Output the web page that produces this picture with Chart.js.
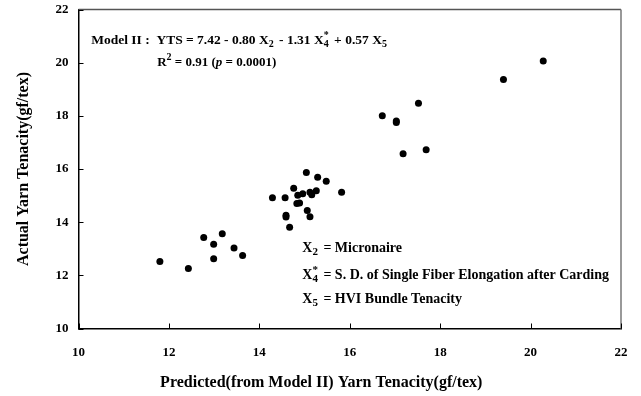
<!DOCTYPE html>
<html><head><meta charset="utf-8">
<script src="https://cdn.jsdelivr.net/npm/chart.js@4.4.1/dist/chart.umd.min.js"></script>
<style>html,body{margin:0;padding:0;background:#fff}#wrap{width:641px;height:396px}</style>
</head><body><div id="wrap"><canvas id="c" width="641" height="396"></canvas></div>
<script>
// Predicted (Model II) yarn tenacity, gf/tex
const predicted = [
  11.80, 12.43, 12.77, 12.99, 13.18, 12.99, 13.44, 13.63,
  14.29, 14.57, 14.76, 14.85, 14.96, 14.83, 14.89, 15.04, 15.29, 15.48, 15.12, 15.16,
  15.26, 15.82, 15.06, 14.59, 14.59, 15.12, 14.67,
  20.28, 19.40, 17.52, 16.72, 17.03, 17.03, 17.69, 17.18
];
// Actual yarn tenacity, gf/tex
const actual = [
  12.52, 12.26, 13.42, 13.17, 13.56, 12.62, 13.03, 12.75,
  14.92, 14.92, 15.28, 15.01, 15.07, 14.70, 14.72, 15.87, 15.69, 15.54, 15.13, 15.03,
  15.18, 15.13, 14.44, 14.26, 14.19, 14.20, 13.81,
  20.06, 19.37, 18.47, 18.00, 17.81, 17.75, 16.72, 16.57
];
const xTicks = [10, 12, 14, 16, 18, 20, 22];
const yTicks = [10, 12, 14, 16, 18, 20, 22];
const xTitle = 'Predicted(from Model II) Yarn Tenacity(gf/tex)';
const yTitle = 'Actual Yarn Tenacity(gf/tex)';

// annotation lines: runs of text; anchor given in data units
const notes = [
  {x: 10.28, y: 20.85, size: 13.5, runs: [{t: 'Model II :  YTS = 7.42 - 0.80 X'}, {t: '2', sub: 1}, {t: ' - 1.31 X'}, {t: '4', sub: 1}, {t: '*', sup: 1, stack: 1}, {t: ' + 0.57 X'}, {t: '5', sub: 1}]},
  {x: 11.74, y: 20.0, size: 13, runs: [{t: 'R'}, {t: '2', sup: 1}, {t: ' = 0.91 ('}, {t: 'p', it: 1}, {t: ' = 0.0001)'}]},
  {x: 14.95, y: 13.02, size: 14, runs: [{t: 'X'}, {t: '2', sub: 1}, {t: ' = Micronaire'}]},
  {x: 14.95, y: 12.01, size: 14, runs: [{t: 'X'}, {t: '4', sub: 1}, {t: '*', sup: 1, stack: 1}, {t: ' = S. D. of Single Fiber Elongation after Carding'}]},
  {x: 14.95, y: 11.10, size: 14, runs: [{t: 'X'}, {t: '5', sub: 1}, {t: ' = HVI Bundle Tenacity'}]}
];

const FONT = '"Liberation Serif", "Times New Roman", serif';

const framePlugin = {
  id: 'frame',
  afterDatasetsDraw(chart) {
    const {ctx, chartArea: a, scales: {x, y}} = chart;
    ctx.save();
    // top & right frame lines
    ctx.strokeStyle = '#555';
    ctx.lineWidth = 1.5;
    ctx.beginPath();
    ctx.moveTo(a.left, a.top); ctx.lineTo(a.right, a.top);
    ctx.stroke();
    ctx.strokeStyle = '#777';
    ctx.beginPath();
    ctx.moveTo(a.right, a.top); ctx.lineTo(a.right, a.bottom);
    ctx.stroke();
    // inward ticks
    ctx.strokeStyle = '#000';
    ctx.lineWidth = 1;
    ctx.beginPath();
    xTicks.forEach(v => { const px = Math.round(x.getPixelForValue(v)) + 0.5; ctx.moveTo(px, a.bottom); ctx.lineTo(px, a.bottom - 5); });
    yTicks.forEach(v => { const py = Math.round(y.getPixelForValue(v)) + 0.5; ctx.moveTo(a.left, py); ctx.lineTo(a.left + 5, py); });
    ctx.stroke();
    // annotations
    ctx.fillStyle = '#000';
    ctx.textBaseline = 'middle';
    ctx.textAlign = 'left';
    notes.forEach(n => {
      let cx = x.getPixelForValue(n.x);
      const cy = y.getPixelForValue(n.y);
      let lastW = 0;
      n.runs.forEach(r => {
        const small = r.sub || r.sup;
        ctx.font = (r.it ? 'italic ' : '') + 'bold ' + (small ? Math.round(n.size * 0.75) : n.size) + 'px ' + FONT;
        const w = ctx.measureText(r.t).width;
        let dx = cx;
        if (r.stack) dx = cx - lastW;
        const dy = r.sub ? cy + 4 : (r.sup ? cy - 5 : cy);
        ctx.fillText(r.t, dx, dy);
        if (r.stack) { cx = Math.max(cx, dx + w + 1); } else { cx += w + (r.sub ? 2 : 0); }
        lastW = w + (r.sub ? 2 : 0);
      });
    });
    // x axis title (offset left of centre, as in the original)
    ctx.font = 'bold 16px ' + FONT;
    ctx.textAlign = 'center';
    ctx.fillText(xTitle, x.getPixelForValue(15.37), a.bottom + 54);
    ctx.restore();
  }
};

new Chart(document.getElementById('c'), {
  type: 'scatter',
  data: {
    datasets: [{
      data: predicted.map((v, i) => ({x: v, y: actual[i]})),
      backgroundColor: '#000',
      borderWidth: 0,
      pointRadius: 3.5,
      pointHoverRadius: 3.5
    }]
  },
  options: {
    responsive: false,
    animation: false,
    devicePixelRatio: 1,
    layout: {padding: {left: 0, right: 20, top: 9.5, bottom: 0}},
    plugins: {legend: {display: false}, tooltip: {enabled: false}},
    scales: {
      x: {
        type: 'linear', min: 10, max: 22,
        afterFit: s => { s.height = 67.5; s.paddingLeft = 0; s.paddingRight = 0; },
        afterBuildTicks: s => { s.ticks = xTicks.map(v => ({value: v})); },
        grid: {display: true, drawOnChartArea: false, drawTicks: false},
        border: {display: true, color: '#000', width: 1.5},
        ticks: {padding: 16, color: '#000', font: {family: FONT, size: 13, weight: 'bold'}, maxRotation: 0},
        title: {display: false}
      },
      y: {
        type: 'linear', min: 10, max: 22,
        afterFit: s => { s.width = 78.5; s.paddingTop = 0; s.paddingBottom = 0; },
        afterBuildTicks: s => { s.ticks = yTicks.map(v => ({value: v})); },
        grid: {display: true, drawOnChartArea: false, drawTicks: false},
        border: {display: true, color: '#000', width: 1.5},
        ticks: {padding: 10, color: '#000', font: {family: FONT, size: 13, weight: 'bold'}},
        title: {display: true, text: yTitle, color: '#000', font: {family: FONT, size: 16, weight: 'bold'}, padding: {top: 14, bottom: 0}}
      }
    }
  },
  plugins: [framePlugin]
});
</script>
</body></html>
